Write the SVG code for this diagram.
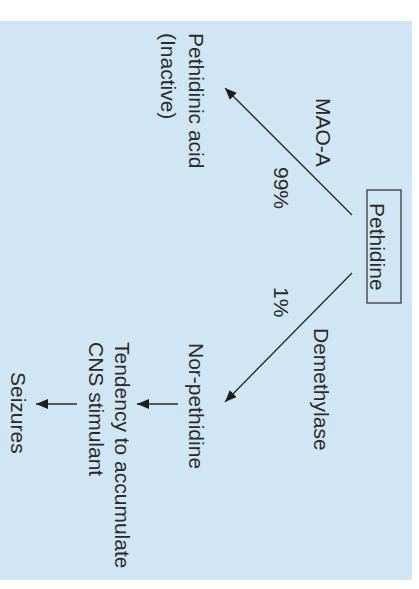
<svg xmlns="http://www.w3.org/2000/svg" width="419" height="589" viewBox="0 0 419 589">
  <style>
    .lbl { font-family: "Liberation Sans", Arial, sans-serif; font-size: 21px; fill: #2a2a2a; }
    .edge { stroke: #2a2a2a; stroke-width: 1.3; fill: none; }
    .box { fill: none; stroke: #3a3a3a; stroke-width: 1.3; }
  </style>
  <defs>
    <marker id="arrow" viewBox="0 0 12 10" refX="12" refY="5" markerWidth="12" markerHeight="10" markerUnits="userSpaceOnUse" orient="auto">
      <path d="M0,0 L12,5 L0,10 z" fill="#1e1e1e"/>
    </marker>
  </defs>

  <rect x="0" y="0" width="419" height="589" fill="#ffffff"/>
  <rect x="0" y="21" width="412" height="559" fill="#d0e6f5"/>

  <g id="connectors">
    <line class="edge" x1="352" y1="215" x2="225" y2="88" marker-end="url(#arrow)"/>
    <line class="edge" x1="352" y1="273" x2="225" y2="402" marker-end="url(#arrow)"/>
    <line class="edge" x1="178" y1="404" x2="137" y2="404" marker-end="url(#arrow)"/>
    <line class="edge" x1="77" y1="404" x2="36" y2="404" marker-end="url(#arrow)"/>
  </g>

  <g id="edge-labels">
    <text class="lbl" transform="translate(316,98) rotate(90)">MAO-A</text>
    <text class="lbl" transform="translate(274,167) rotate(90)">99%</text>
    <text class="lbl" transform="translate(274,287) rotate(90)">1%</text>
    <text class="lbl" transform="translate(314,328) rotate(90)">Demethylase</text>
  </g>

  <g id="pethidine">
    <rect class="box" x="367" y="190" width="34" height="113"/>
    <text class="lbl" transform="translate(370,203) rotate(90)">Pethidine</text>
  </g>

  <g id="pethidinic-acid">
    <text class="lbl" transform="translate(189,33) rotate(90)">Pethidinic acid</text>
    <text class="lbl" transform="translate(161,33) rotate(90)">(Inactive)</text>
  </g>

  <g id="nor-pethidine">
    <text class="lbl" transform="translate(189,343) rotate(90)">Nor-pethidine</text>
  </g>

  <g id="cns-stimulant">
    <text class="lbl" transform="translate(115,342) rotate(90)">Tendency to accumulate</text>
    <text class="lbl" transform="translate(89,342) rotate(90)">CNS stimulant</text>
  </g>

  <g id="seizures">
    <text class="lbl" transform="translate(11,372) rotate(90)">Seizures</text>
  </g>
</svg>
